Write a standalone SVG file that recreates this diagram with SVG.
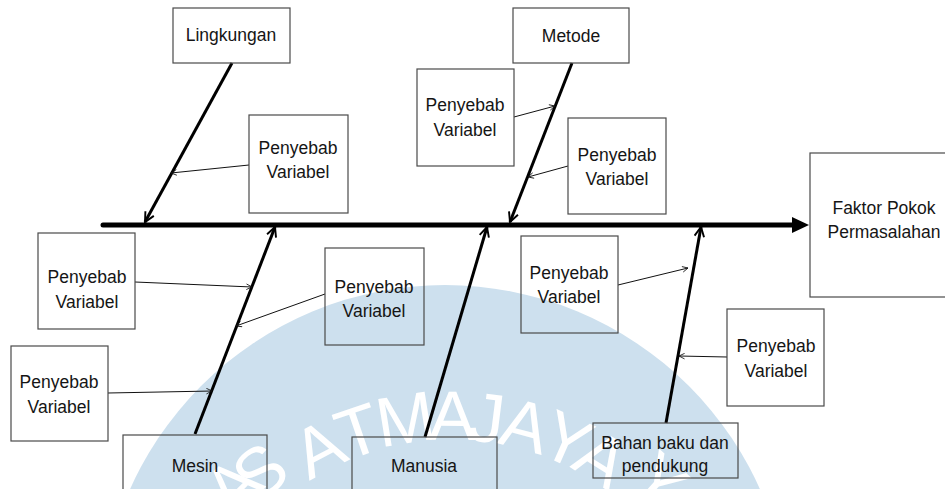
<svg xmlns="http://www.w3.org/2000/svg" width="945" height="489" viewBox="0 0 945 489">
<style>
.box{fill:none;stroke:#4a4a4a;stroke-width:1.2}
.lbl{font-family:"Liberation Sans",Arial,sans-serif;font-size:17.5px;fill:#151515;text-anchor:middle}
.bone{stroke:#000;stroke-width:3;fill:none}
.thin{stroke:#111;stroke-width:1;fill:none}
.wm{font-family:"Liberation Sans",Arial,sans-serif;font-size:70px;fill:#fff;text-anchor:middle}
</style>
<defs>
<marker id="boneHead" viewBox="0 0 10 10" refX="9" refY="5" markerWidth="4" markerHeight="4" orient="auto" markerUnits="strokeWidth">
<path d="M1,1 L9,5 L1,9" fill="none" stroke="#000" stroke-width="1.6"/>
</marker>
<marker id="thinHead" viewBox="0 0 10 10" refX="9" refY="5" markerWidth="7" markerHeight="7" orient="auto" markerUnits="userSpaceOnUse">
<path d="M1,1 L9,5 L1,9" fill="none" stroke="#111" stroke-width="1.2"/>
</marker>
<marker id="spineHead" viewBox="0 0 17 16" refX="1" refY="8" markerWidth="17" markerHeight="16" orient="auto" markerUnits="userSpaceOnUse">
<path d="M0,0 L17,8 L0,16 Z" fill="#000"/>
</marker>
</defs>

<g id="watermark">
<circle cx="445" cy="630" r="345" fill="#cde0ee"/>
<text class="wm" transform="translate(250,503) rotate(-45)">A</text>
<text class="wm" transform="translate(275,491) rotate(-38)">S</text>
<text class="wm" transform="translate(330,470) rotate(-27.6)">A</text>
<text class="wm" transform="translate(366,454) rotate(-18.8)">T</text>
<text class="wm" transform="translate(409,443) rotate(-9.1)">M</text>
<text class="wm" transform="translate(452,440) rotate(0.4)">A</text>
<text class="wm" transform="translate(484,442) rotate(7.1)">J</text>
<text class="wm" transform="translate(519,449) rotate(14.8)">A</text>
<text class="wm" transform="translate(557,462) rotate(23.8)">Y</text>
<text class="wm" transform="translate(589,479) rotate(31.8)">A</text>
<text class="wm" transform="translate(643,499) rotate(42)">Y</text>
</g>

<g id="connectors">
<line x1="103" y1="225" x2="793" y2="225" stroke="#000" stroke-width="5" stroke-linecap="round" marker-end="url(#spineHead)"/>
<line class="bone" x1="232" y1="63" x2="145" y2="222" marker-end="url(#boneHead)"/>
<line class="bone" x1="572" y1="63" x2="510" y2="222" marker-end="url(#boneHead)"/>
<line class="bone" x1="195" y1="434" x2="275" y2="227" marker-end="url(#boneHead)"/>
<line class="bone" x1="425" y1="437" x2="487" y2="227" marker-end="url(#boneHead)"/>
<line class="bone" x1="666" y1="423" x2="701" y2="227" marker-end="url(#boneHead)"/>
<line class="thin" x1="249" y1="165" x2="171" y2="173" marker-end="url(#thinHead)"/>
<line class="thin" x1="514" y1="117" x2="555" y2="106" marker-end="url(#thinHead)"/>
<line class="thin" x1="568" y1="166" x2="528" y2="177" marker-end="url(#thinHead)"/>
<line class="thin" x1="135" y1="282" x2="252" y2="287" marker-end="url(#thinHead)"/>
<line class="thin" x1="108" y1="393" x2="212" y2="391" marker-end="url(#thinHead)"/>
<line class="thin" x1="325" y1="294" x2="236" y2="326" marker-end="url(#thinHead)"/>
<line class="thin" x1="618" y1="285" x2="688" y2="268" marker-end="url(#thinHead)"/>
<line class="thin" x1="727" y1="357" x2="679" y2="356" marker-end="url(#thinHead)"/>
</g>

<g id="head">
<rect class="box" x="810" y="153" width="140" height="144"/>
<text class="lbl" x="884" y="214">Faktor Pokok</text>
<text class="lbl" x="884" y="238">Permasalahan</text>
</g>
<g id="lingkungan">
<rect class="box" x="173" y="8" width="117" height="55"/>
<text class="lbl" x="231" y="41">Lingkungan</text>
</g>
<g id="metode">
<rect class="box" x="513" y="8" width="116" height="55"/>
<text class="lbl" x="571" y="42">Metode</text>
</g>
<g id="mesin">
<rect class="box" x="123" y="435" width="144" height="60"/>
<text class="lbl" x="195" y="472">Mesin</text>
</g>
<g id="manusia">
<rect class="box" x="352" y="437" width="145" height="60"/>
<text class="lbl" x="424" y="472">Manusia</text>
</g>
<g id="bahan">
<rect class="box" x="593" y="423" width="145" height="55"/>
<text class="lbl" x="665" y="449">Bahan baku dan</text>
<text class="lbl" x="665" y="472">pendukung</text>
</g>
<g id="penyebab-lingkungan">
<rect class="box" x="249" y="115" width="99" height="98"/>
<text class="lbl" x="298" y="154">Penyebab</text>
<text class="lbl" x="298" y="178">Variabel</text>
</g>
<g id="penyebab-metode-1">
<rect class="box" x="417" y="69" width="97" height="97"/>
<text class="lbl" x="465" y="111">Penyebab</text>
<text class="lbl" x="465" y="136">Variabel</text>
</g>
<g id="penyebab-metode-2">
<rect class="box" x="568" y="118" width="98" height="96"/>
<text class="lbl" x="617" y="161">Penyebab</text>
<text class="lbl" x="617" y="185">Variabel</text>
</g>
<g id="penyebab-mesin-1">
<rect class="box" x="38" y="233" width="97" height="96"/>
<text class="lbl" x="87" y="283">Penyebab</text>
<text class="lbl" x="87" y="308">Variabel</text>
</g>
<g id="penyebab-mesin-2">
<rect class="box" x="11" y="346" width="97" height="95"/>
<text class="lbl" x="59" y="388">Penyebab</text>
<text class="lbl" x="59" y="413">Variabel</text>
</g>
<g id="penyebab-mesin-3">
<rect class="box" x="325" y="248" width="99" height="97"/>
<text class="lbl" x="374" y="293">Penyebab</text>
<text class="lbl" x="374" y="317">Variabel</text>
</g>
<g id="penyebab-manusia">
<rect class="box" x="521" y="236" width="97" height="97"/>
<text class="lbl" x="569" y="279">Penyebab</text>
<text class="lbl" x="569" y="303">Variabel</text>
</g>
<g id="penyebab-bahan">
<rect class="box" x="727" y="309" width="97" height="97"/>
<text class="lbl" x="776" y="352">Penyebab</text>
<text class="lbl" x="776" y="377">Variabel</text>
</g>
</svg>
